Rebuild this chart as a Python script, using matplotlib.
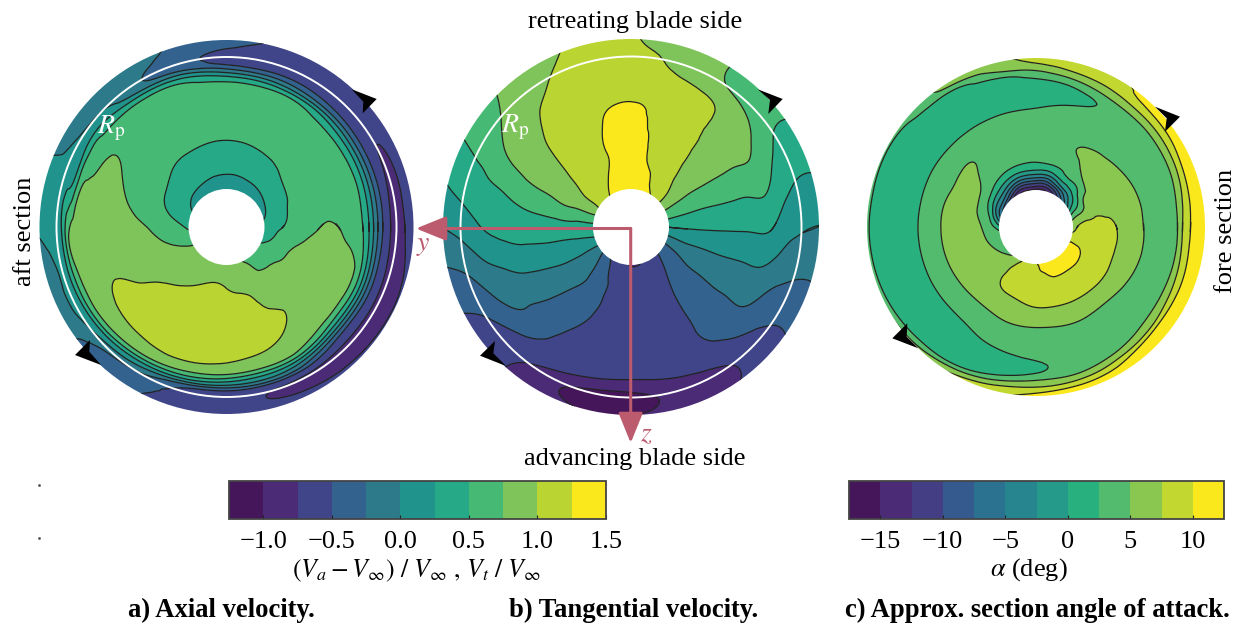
import matplotlib
matplotlib.use('Agg')
import matplotlib.pyplot as plt
import numpy as np
from matplotlib.colors import ListedColormap
from matplotlib.patches import Circle
from matplotlib.tri import CubicTriInterpolator, Triangulation, UniformTriRefiner

plt.rcParams['font.family'] = 'Liberation Serif'
plt.rcParams['mathtext.fontset'] = 'stix'
plt.rcParams['contour.negative_linestyle'] = 'solid'

PINK = '#bc5b6e'
TEXT_SIZE = 19
VELOCITY_COLORS = ['#45175a', '#4b2a76', '#404488', '#33628f', '#2d7a8b', '#20938c',
                   '#25a986', '#46ba74', '#7fc45a', '#bad532', '#fae71c']
ANGLE_COLORS = ['#45175a', '#4b2b76', '#443f85', '#355a8d', '#2b7290', '#26858f',
                '#259a8a', '#28b17f', '#53bb6e', '#8ac751', '#c2d730', '#fae71c']

# velocity and angle bands of the two colorbars
velocity_levels = [-1.25, -1.0, -0.75, -0.5, -0.25, 0.0, 0.25, 0.5, 0.75, 1.0, 1.25, 1.5]
velocity_ticks = [-1.0, -0.5, 0.0, 0.5, 1.0, 1.5]
angle_levels = [-17.5, -15, -12.5, -10, -7.5, -5, -2.5, 0, 2.5, 5, 7.5, 10, 12.5]
angle_ticks = [-15, -10, -5, 0, 5, 10]

# r / R of the table nodes, azimuth runs 0, 15 .. 345 deg counter-clockwise from the right
axial_r = [0.19, 0.25, 0.32, 0.40, 0.48, 0.56, 0.64, 0.72, 0.77, 0.81, 0.85, 0.88, 0.92, 0.96, 1.02]
# one row per azimuth
axial = [
    [.28, .42, .53, .66, .73, .78, .70, .55, .18, -.25, -.60, -.76, -.86, -.72, -.60],
    [.20, .33, .47, .58, .63, .64, .62, .55, .20, -.22, -.58, -.73, -.82, -.72, -.62],
    [.15, .28, .42, .55, .62, .64, .62, .56, .25, -.18, -.55, -.68, -.74, -.68, -.62],
    [.12, .24, .37, .50, .58, .62, .62, .57, .33, -.10, -.50, -.64, -.65, -.62, -.58],
    [.10, .22, .33, .45, .55, .60, .62, .58, .47, -.02, -.42, -.60, -.62, -.60, -.55],
    [.10, .21, .31, .42, .53, .60, .62, .58, .51, .10, -.38, -.60, -.62, -.58, -.52],
    [.10, .20, .31, .41, .52, .58, .60, .58, .53, .20, -.30, -.58, -.60, -.48, -.40],
    [.10, .21, .31, .42, .53, .60, .62, .60, .56, .43, -.02, -.35, -.42, -.38, -.32],
    [.10, .23, .33, .44, .54, .60, .62, .60, .57, .52, .12, -.20, -.24, -.18, -.12],
    [.12, .25, .36, .48, .56, .62, .65, .64, .60, .55, .30, .08, -.05, -.13, -.15],
    [.20, .30, .42, .53, .60, .66, .74, .77, .68, .58, .38, .14, .02, -.06, -.08],
    [.30, .39, .49, .58, .66, .76, .85, .85, .80, .72, .30, .22, .15, .10, .08],
    [.42, .54, .62, .72, .80, .86, .90, .90, .88, .84, .68, .27, .18, .12, .03],
    [.60, .66, .74, .80, .86, .90, .92, .92, .90, .84, .62, .25, .04, -.06, -.08],
    [.76, .80, .84, .88, .93, .98, 1.04, .98, .90, .84, .56, .20, .03, -.08, -.12],
    [.80, .83, .88, .96, 1.06, 1.10, 1.10, 1.03, .94, .83, .46, .10, -.20, -.32, -.40],
    [.82, .86, .94, 1.05, 1.12, 1.14, 1.12, 1.05, .96, .78, .30, -.06, -.33, -.42, -.46],
    [.85, .92, 1.02, 1.10, 1.14, 1.15, 1.13, 1.06, .93, .66, .12, -.42, -.58, -.62, -.66],
    [.84, .90, .99, 1.08, 1.13, 1.14, 1.10, 1.01, .90, .50, -.05, -.54, -.66, -.70, -.72],
    [.80, .84, .92, 1.04, 1.10, 1.12, 1.08, .97, .82, .35, -.12, -.62, -.76, -.74, -.70],
    [.70, .78, .84, .90, .96, 1.06, .98, .88, .72, .20, -.30, -.64, -.84, -.78, -.62],
    [.52, .62, .78, .82, .85, .86, .84, .79, .42, -.12, -.58, -.72, -.88, -.82, -.66],
    [.52, .60, .72, .80, .84, .86, .84, .78, .38, -.15, -.58, -.72, -.88, -.84, -.66],
    [.35, .50, .66, .76, .82, .84, .80, .72, .30, -.20, -.60, -.74, -.88, -.82, -.62],
]

tangential_r = [0.19, 0.28, 0.37, 0.46, 0.55, 0.64, 0.73, 0.82, 0.91, 1.02]
# one row per radius, one column per azimuth
tangential = [
    [.25, .56, .82, 1.07, 1.28, 1.38, 1.42, 1.38, 1.29, 1.15, 1.0, .66, .43, .27, -.01, -.31, -.56, -.65, -.80, -.78, -.62, -.52, -.33, -.05],
    [.28, .53, .78, 1.01, 1.15, 1.32, 1.38, 1.32, 1.22, 1.10, .96, .67, .41, .22, -.01, -.21, -.44, -.58, -.62, -.62, -.58, -.44, -.25, .02],
    [.29, .51, .75, .96, 1.10, 1.23, 1.36, 1.28, 1.17, 1.06, .92, .69, .40, .20, -.01, -.19, -.39, -.56, -.60, -.60, -.54, -.38, -.19, .03],
    [.29, .51, .75, .94, 1.08, 1.21, 1.34, 1.28, 1.16, 1.04, .88, .64, .39, .19, -.04, -.24, -.41, -.56, -.60, -.60, -.52, -.37, -.18, .04],
    [.29, .51, .75, .93, 1.07, 1.19, 1.32, 1.26, 1.14, 1.02, .86, .61, .37, .17, -.08, -.28, -.45, -.58, -.62, -.62, -.52, -.36, -.17, .04],
    [.29, .51, .75, .92, 1.05, 1.16, 1.29, 1.21, 1.10, 1.0, .83, .55, .35, .13, -.12, -.33, -.51, -.60, -.64, -.64, -.52, -.36, -.17, .04],
    [.29, .53, .75, .92, 1.04, 1.10, 1.14, 1.12, 1.07, .97, .78, .48, .31, .04, -.18, -.36, -.58, -.65, -.68, -.66, -.54, -.38, -.18, .03],
    [.12, .36, .60, .84, .98, 1.04, 1.08, 1.06, 1.03, .91, .68, .43, .22, -.07, -.30, -.51, -.62, -.72, -.77, -.72, -.65, -.50, -.34, -.11],
    [.03, .24, .45, .64, .79, .96, 1.05, 1.08, .98, .81, .59, .36, .09, -.23, -.48, -.65, -.87, -1.06, -1.08, -.93, -.82, -.63, -.43, -.20],
    [-.01, .23, .44, .63, .77, .89, 1.02, 1.06, .90, .75, .53, .27, .0, -.31, -.54, -.71, -.87, -.98, -.97, -.93, -.80, -.62, -.42, -.22],
]

alpha_r = [0.21, 0.24, 0.28, 0.33, 0.39, 0.46, 0.53, 0.60, 0.67, 0.74, 0.81, 0.86, 0.90, 0.94, 0.98, 1.02]
# one row per azimuth
alpha = [
    [6.5, 7.4, 8.3, 8.8, 8.8, 7.8, 6.6, 5.6, 4.6, 3.8, 3.2, 6.9, 9.3, 11.2, 11.5, 11.5],
    [3.8, 4.8, 5.6, 6.6, 7.0, 6.8, 6.3, 5.5, 4.4, 3.6, 3.2, 5.7, 8.2, 10.8, 11.5, 11.5],
    [-3, 0, 2.2, 5.4, 6.4, 6.6, 6.3, 5.2, 3.8, 3.2, 3.2, 4.9, 7.2, 9.7, 11, 11.3],
    [-7, -4.5, -1, 2.1, 5, 6.1, 5.8, 4.6, 3.6, 3.2, 3.2, 4.6, 6.9, 9, 10.8, 11],
    [-13, -9, -3, 1.5, 3.5, 4.6, 5.2, 3.9, 3.3, 3, 2.8, 4.2, 6.4, 8.2, 9.4, 9.8],
    [-16, -12.5, -6.5, -.5, 2.9, 3.6, 3.7, 3.7, 3.5, 2.6, 1.5, 2.7, 5, 7.4, 8.8, 9.2],
    [-16.5, -12.5, -6.5, -.5, 2.7, 3.6, 3.8, 3.6, 3, 1.9, 1.3, 1.8, 3.5, 6, 7.8, 8.4],
    [-16.5, -12.5, -6.5, -.5, 2.8, 3.6, 3.8, 3.6, 2.9, 1.8, 1.2, 1.4, 2.1, 4.6, 6.4, 7],
    [-15, -11, -5, .2, 3.1, 3.7, 3.8, 3.6, 2.9, 1.8, 1.2, 1.2, 1.5, 2.2, 5.3, 5.8],
    [-12, -7, -2.4, 1.6, 3.9, 4.7, 5.1, 4, 2.9, 1.8, 1.2, 1.2, 1.3, 1.8, 3.4, 4.4],
    [-9, -5.2, -1, 3, 5.2, 6, 5.3, 4, 3, 1.8, 1.2, 1.1, 1.1, 1.2, 2.2, 3],
    [-6, -2.6, 1.8, 4.2, 5.6, 6.2, 5.5, 4.2, 3, 1.8, 1.2, 1.1, 1.1, 1.2, 2.3, 3],
    [1, 2.2, 3.6, 5.2, 6, 6.4, 5.7, 4.2, 3, 1.8, 1.2, 1.1, 1.1, 1.2, 2.3, 3],
    [3, 3.6, 4.4, 5.6, 6.2, 6.5, 5.7, 4.2, 3, 1.8, 1.2, 1.1, 1.1, 1.2, 2.3, 3.6],
    [4, 4.5, 5.2, 6, 6.5, 6.6, 5.6, 4.2, 3, 1.8, 1.2, 1.1, 1.2, 1.5, 2.7, 6.5],
    [4.4, 5.2, 6, 6.5, 6.8, 6.6, 5.5, 4.2, 3, 1.8, 1.2, 1.1, 1.4, 1.8, 3.9, 7],
    [6, 7, 7.7, 7.9, 7.7, 6.8, 5.6, 4.4, 3.2, 2.3, 1.4, 1.2, 1.5, 2.2, 6.2, 8],
    [8.5, 8.6, 8.8, 8.9, 8.4, 7.2, 6.1, 4.8, 3.6, 2.8, 1.9, 1.6, 2.2, 5.3, 8.2, 9.5],
    [9.8, 9.4, 9.2, 9.1, 8.8, 7.8, 6.4, 4.9, 3.9, 3.2, 2.3, 2.3, 4.5, 7, 9.8, 11],
    [12, 11.5, 10.3, 9.6, 9, 8, 6.5, 5.1, 4.2, 3.7, 3.3, 3.6, 4.9, 7.6, 10.6, 11.5],
    [12, 11.8, 11, 9.7, 9.2, 8.2, 6.6, 5.2, 4.2, 3.7, 3.4, 4, 6.1, 8.8, 11, 11.5],
    [12, 11.8, 11, 9.8, 9.2, 8.3, 6.7, 5.2, 4.2, 3.7, 3.4, 5.1, 7, 10.8, 11.5, 11.5],
    [11, 11, 10.4, 9.6, 9.1, 8.2, 6.8, 5.6, 4.4, 3.7, 3.3, 6, 8.2, 11, 11.5, 11.5],
    [8.2, 8.6, 9.2, 9.4, 9, 8, 6.7, 5.8, 4.6, 3.7, 3.2, 6.4, 8.8, 11.2, 11.5, 11.5],
]


def draw_disc(ax, center, radius, hub, r_nodes, field, levels, colors):
    """
    Contours one polar table on a disc.

    :param center: disc centre in pixels
    :param radius: disc radius in pixels
    :param hub: hub radius in pixels
    :param r_nodes: r / R of the table columns
    :param field: table with one row per azimuth
    :param levels: contour levels
    :param colors: one colour per band
    """
    field = np.asarray(field, dtype=float)
    n_theta, n_r = field.shape
    pad = 2

    # table is periodic in azimuth, wrap a little so the seam stays smooth
    idx = np.arange(-pad, n_theta + pad + 1)
    wrapped = field[idx % n_theta]
    tt, rr = np.meshgrid(idx, np.arange(n_r), indexing='ij')
    triangles = []
    for i in range(len(idx) - 1):
        for j in range(n_r - 1):
            a = i * n_r + j
            b = a + 1
            c = a + n_r
            d = c + 1
            triangles += [[a, c, b], [b, c, d]]
    mesh = Triangulation(tt.ravel().astype(float), rr.ravel().astype(float), triangles)
    interp = CubicTriInterpolator(mesh, wrapped.ravel(), kind='min_E')
    fine, fine_z = UniformTriRefiner(mesh).refine_field(wrapped.ravel(), triinterpolator=interp, subdiv=3)

    theta = np.deg2rad(fine.x * 360 / n_theta)
    rad = np.interp(fine.y, np.arange(n_r), r_nodes) * radius
    x = center[0] + rad * np.cos(theta)
    y = center[1] - rad * np.sin(theta)
    disc_mesh = Triangulation(x, y, fine.triangles)
    mid = fine.x[fine.triangles].mean(axis=1)
    disc_mesh.set_mask((mid < -0.1) | (mid > n_theta + 0.1))

    z = np.clip(fine_z, levels[0] + 1e-3, levels[-1] - 1e-3)
    filled = ax.tricontourf(disc_mesh, z, levels=levels, cmap=ListedColormap(colors), zorder=1)
    lines = ax.tricontour(disc_mesh, z, levels=levels[1:-1], colors='#222222', linewidths=0.9, zorder=2)
    edge = Circle(center, radius, transform=ax.transData, facecolor='none', edgecolor='none')
    ax.add_patch(edge)
    filled.set_clip_path(edge)
    lines.set_clip_path(edge)
    ax.add_patch(Circle(center, hub, facecolor='white', edgecolor='none', zorder=3))
    return filled


def add_colorbar(fig, filled, box, ticks):
    left, top, right, bottom = box
    cax = fig.add_axes([left / 1248, 1 - bottom / 626, (right - left) / 1248, (bottom - top) / 626])
    bar = fig.colorbar(filled, cax=cax, orientation='horizontal', ticks=ticks)
    bar.outline.set_edgecolor('#444444')
    bar.outline.set_linewidth(1.3)
    bar.ax.tick_params(direction='in', length=3, width=0.8, pad=9, labelsize=TEXT_SIZE, color='#222222')
    return bar


fig = plt.figure(figsize=(12.48, 6.26), dpi=100)
ax = fig.add_axes([0, 0, 1, 1])
ax.set_xlim(0, 1248)
ax.set_ylim(626, 0)
ax.axis('off')

disc_a = draw_disc(ax, (226.5, 227), 187, 38, axial_r, axial, velocity_levels, VELOCITY_COLORS)
draw_disc(ax, (631, 227), 188, 38, tangential_r, np.array(tangential).T, velocity_levels, VELOCITY_COLORS)
disc_c = draw_disc(ax, (1036, 227), 169, 37, alpha_r, alpha, angle_levels, ANGLE_COLORS)

# propeller radius
ax.add_patch(Circle((226.5, 227), 170, facecolor='none', edgecolor='white', linewidth=1.4, zorder=4))
ax.add_patch(Circle((631, 227), 170.5, facecolor='none', edgecolor='white', linewidth=1.4, zorder=4))
ax.text(111, 128, r'$R_{\mathrm{p}}$', color='white', fontsize=20, ha='center', va='center', zorder=5)
ax.text(515, 127, r'$R_{\mathrm{p}}$', color='white', fontsize=20, ha='center', va='center', zorder=5)

# rotation direction heads
heads = [
    ([351.7, 376.7, 362.7, 363.3], [89.3, 99, 113.3, 101.7]),
    ([101, 75, 90, 89.3], [365, 355, 340, 351.7]),
    ([757.7, 782.7, 768.3, 770], [89.3, 99, 114, 100]),
    ([506, 480, 495, 493.3], [366, 355.7, 341, 353.3]),
    ([1155, 1180, 1165, 1166.7], [106.7, 116.7, 131.7, 118.3]),
    ([918.3, 892.3, 907.3, 906.7], [348.3, 338.3, 323.3, 336.7]),
]
for head_x, head_y in heads:
    ax.fill(head_x, head_y, color='black', linewidth=0, zorder=5)

# body axes
for tip in [(416, 228.5), (630.7, 443)]:
    ax.annotate('', xy=tip, xytext=(630.7, 228.5), zorder=6,
                arrowprops=dict(arrowstyle='-|>,head_length=1.85,head_width=0.75', color=PINK, lw=2.2,
                                mutation_scale=10, shrinkA=0, shrinkB=0))
ax.text(423, 245, r'$y$', color=PINK, fontsize=20, ha='center', va='center', zorder=6)
ax.text(646, 435, r'$z$', color=PINK, fontsize=20, ha='center', va='center', zorder=6)

ax.text(635, 22, 'retreating blade side', fontsize=TEXT_SIZE, ha='center', va='center')
ax.text(635, 459, 'advancing blade side', fontsize=TEXT_SIZE, ha='center', va='center')
ax.text(25, 231, 'aft section', fontsize=TEXT_SIZE, rotation=90, ha='center', va='center')
ax.text(1226, 231, 'fore section', fontsize=TEXT_SIZE, rotation=90, ha='center', va='center')

ax.text(221, 610, 'a) Axial velocity.', fontsize=19.2, fontweight='bold', ha='center', va='center')
ax.text(634, 610, 'b) Tangential velocity.', fontsize=19.2, fontweight='bold', ha='center', va='center')
ax.text(1037, 610, 'c) Approx. section angle of attack.', fontsize=19.2, fontweight='bold', ha='center', va='center')

add_colorbar(fig, disc_a, (229, 481, 606, 519), velocity_ticks)
add_colorbar(fig, disc_c, (849, 481, 1224, 519), angle_ticks)
ax.text(417, 571, r'$(V_a - V_\infty)\ /\ V_\infty\ ,\, V_t\ /\ V_\infty$', fontsize=18.5, ha='center', va='center')
ax.text(1029, 570, r'$\alpha$ (deg)', fontsize=TEXT_SIZE, ha='center', va='center')

# two stray specks left of the colorbar
ax.plot([39, 39], [485, 538], linestyle='none', marker='o', markersize=1, color='#555555')

fig.savefig('out.png', dpi=100)
